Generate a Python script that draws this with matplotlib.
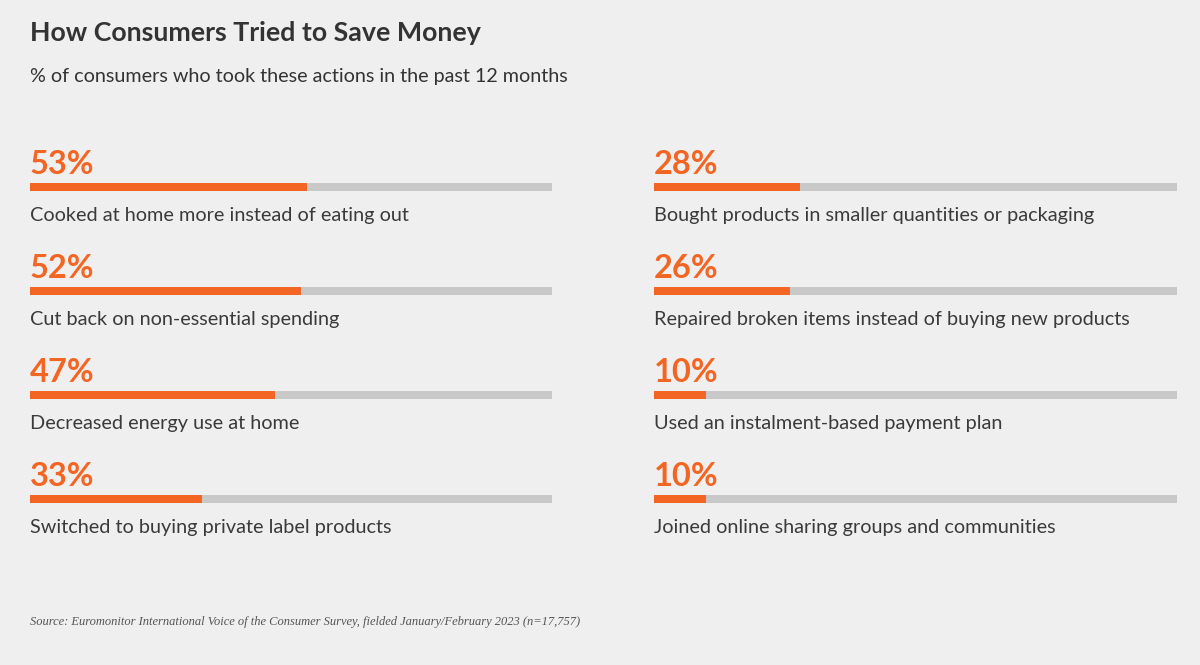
import matplotlib
matplotlib.use('Agg')
import matplotlib.pyplot as plt

# -- DATA --
left_values = [53, 52, 47, 33]
left_labels = [
    "Cooked at home more instead of eating out",
    "Cut back on non-essential spending",
    "Decreased energy use at home",
    "Switched to buying private label products",
]
right_values = [28, 26, 10, 10]
right_labels = [
    "Bought products in smaller quantities or packaging",
    "Repaired broken items instead of buying new products",
    "Used an instalment-based payment plan",
    "Joined online sharing groups and communities",
]

TITLE = "How Consumers Tried to Save Money"
SUBTITLE = "% of consumers who took these actions in the past 12 months"
SOURCE = ("Source: Euromonitor International Voice of the Consumer Survey, "
          "fielded January/February 2023 (n=17,757)")

BG = "#efefef"
ORANGE = "#f26522"
TRACK = "#c8c8c8"
DARK = "#333333"

plt.rcParams['font.family'] = ['Lato', 'DejaVu Sans']

W, H = 1200, 665
fig = plt.figure(figsize=(W / 100, H / 100), dpi=100)
fig.patch.set_facecolor(BG)


def px_axes(x0, x1, y_top, y_bot):
    """Axes from pixel box (y measured from top)"""
    return fig.add_axes([x0 / W, 1 - y_bot / H, (x1 - x0) / W, (y_bot - y_top) / H])


def draw_column(ax, values, labels):
    rows = range(len(values))
    ax.barh(rows, [100] * len(values), height=0.085, color=TRACK, left=0)
    ax.barh(rows, values, height=0.085, color=ORANGE, left=0)
    for i, (v, lab) in enumerate(zip(values, labels)):
        ax.text(0, i - 0.125, f"{v}%", color=ORANGE, fontsize=23.5,
                fontweight='bold', va='baseline', ha='left')
        ax.text(0, i + 0.33, lab, color='#3a3a3a', fontsize=14.3,
                va='baseline', ha='left')
    ax.set_xlim(0, 100)
    ax.set_ylim(len(values) - 0.5, -0.5)
    ax.axis('off')


# rows: bar centres at 187 + 104*i px
ax_left = px_axes(30, 552, 135, 551)
ax_right = px_axes(654, 1177, 135, 551)
draw_column(ax_left, left_values, left_labels)
draw_column(ax_right, right_values, right_labels)

fig.text(30 / W, 1 - 41 / H, TITLE, color=DARK, fontsize=19.3,
         fontweight='bold', va='baseline', ha='left')
fig.text(30 / W, 1 - 82 / H, SUBTITLE, color=DARK, fontsize=14.2,
         va='baseline', ha='left')
fig.text(30 / W, 1 - 625 / H, SOURCE, color='#555555', fontsize=9,
         family=['Liberation Serif', 'DejaVu Serif'], style='italic',
         va='baseline', ha='left')

fig.savefig('out.png', dpi=100, facecolor=BG)
plt.close(fig)
